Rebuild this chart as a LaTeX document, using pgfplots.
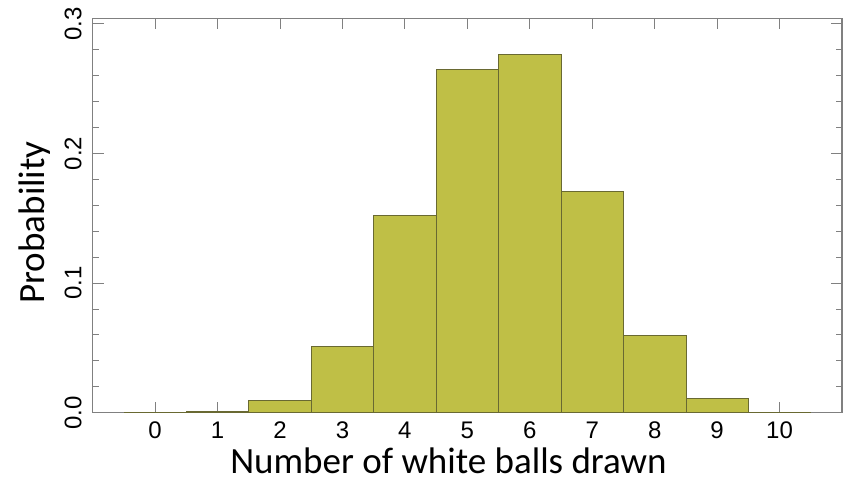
\documentclass[border=0pt]{standalone}
\usepackage{fontspec}
\usepackage{pgfplots}
\pgfplotsset{compat=1.18}
\newfontfamily\arialfont{Liberation Sans}
\newfontfamily\calfont{Carlito}
\definecolor{barfill}{RGB}{191,191,70}
\definecolor{baredge}{RGB}{105,105,50}
\definecolor{axgrey}{RGB}{128,128,128}
\begin{document}
\begin{tikzpicture}
\begin{axis}[
  scale only axis,
  width=749.3pt, height=394.4pt,
  xmin=-1, xmax=11,
  ymin=0, ymax=0.3043,
  xtick={0,1,2,3,4,5,6,7,8,9,10},
  ytick={0,0.1,0.2,0.3},
  yticklabels={0.0,0.1,0.2,0.3},
  minor y tick num=4,
  tick align=inside,
  major tick length=11pt,
  minor tick length=6pt,
  tick style={axgrey, line width=1pt},
  axis line style={axgrey, line width=1.3pt},
  /pgf/number format/assume math mode=true,
  ticklabel style={font=\arialfont\fontsize{24}{24}\selectfont, text=black},
  xticklabel style={inner sep=0pt, yshift=-9pt},
  yticklabel style={rotate=90, anchor=south, inner sep=0pt, yshift=11pt},
  xlabel={Number of white balls drawn},
  ylabel={Probability},
  label style={font=\calfont\fontsize{37}{37}\selectfont, inner sep=0pt},
  xlabel style={at={(axis description cs:0.4748,-0.1535)}, anchor=base},
  ylabel style={at={(axis description cs:-0.064,0.4825)}, anchor=base},
]
\addplot[ybar, bar width=1, fill=barfill, draw=baredge, line width=0.7pt] coordinates {
  (0,0.0001) (1,0.0007) (2,0.0093) (3,0.0509) (4,0.1524) (5,0.2650)
  (6,0.2763) (7,0.1704) (8,0.0594) (9,0.0111) (10,0.0005)
};
\end{axis}
\pgfresetboundingbox
\path (current axis.south west) ++(-92.7pt,-72.3pt) rectangle ++(851pt,485pt);
\end{tikzpicture}
\end{document}
